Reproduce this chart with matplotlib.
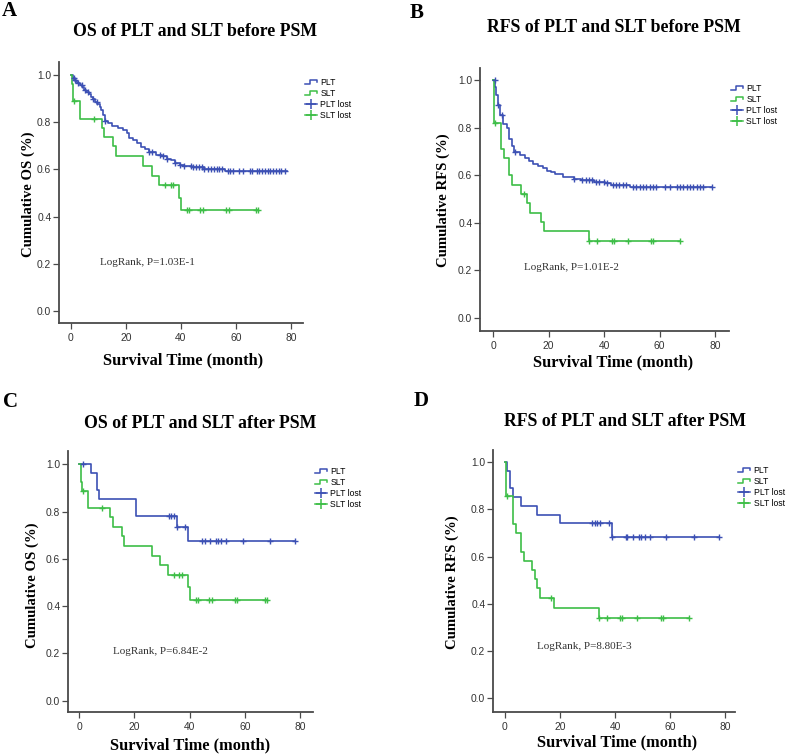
import numpy as np
import matplotlib
matplotlib.use("Agg")
import matplotlib.pyplot as plt
from matplotlib.lines import Line2D
from matplotlib.legend_handler import HandlerBase

W, H = 787, 754
BLUE = "#3C50B4"
GREEN = "#3DBE47"
SPINE = "#4a4a4a"

# --- data (step times / survival after step, censor times, last follow-up) ---
os_plt_pre_t = [0, 0.6, 1.2, 1.8, 2.5, 3.2, 4.0, 4.8, 5.6, 6.4, 7.2, 8.0, 8.8, 9.6, 10.4, 11.0,
                11.5, 12.2, 13.5, 15.0, 17.0, 19.0, 20.5, 21.2, 22.5, 24.0, 25.5, 27.0, 28.5,
                31.0, 33.0, 35.0, 36.5, 38.0, 39.5, 41.0, 44.0, 48.5, 56.0]
os_plt_pre_s = [1.0, 0.987, 0.980, 0.972, 0.964, 0.956, 0.948, 0.938, 0.928, 0.918, 0.908, 0.897,
                0.886, 0.875, 0.864, 0.853, 0.83, 0.805, 0.795, 0.785, 0.775, 0.765, 0.755, 0.735,
                0.725, 0.71, 0.695, 0.685, 0.672, 0.662, 0.655, 0.645, 0.638, 0.628, 0.62, 0.614,
                0.61, 0.603, 0.592]
os_plt_pre_cens = [1.0, 1.5, 2.7, 3.9, 5.1, 6.3, 8.1, 9.3, 12.5, 28.5, 29.5, 32.5, 33.5, 35.0,
                   38.0, 39.5, 41.0, 43.5, 44.5, 45.5, 46.5, 47.5, 48.5, 50.0, 51.0, 52.0, 53.0,
                   54.0, 55.0, 57.0, 58.0, 59.0, 61.0, 62.5, 65.0, 66.0, 67.5, 68.5, 69.5, 70.5,
                   71.5, 72.5, 73.5, 74.5, 75.5, 76.5, 78.0]
os_plt_pre_end = 78.4

os_slt_t = [0, 0.5, 0.7, 0.9, 3.3, 11.2, 12.1, 15.4, 16.2, 26.3, 29.3, 32.1, 39.4, 40.2]
os_slt_s = [1.0, 0.963, 0.926, 0.889, 0.815, 0.776, 0.736, 0.697, 0.656, 0.614, 0.573, 0.532,
            0.48, 0.426]
os_slt_cens = [1.2, 8.2, 34.3, 36.3, 37.2, 42.2, 43.1, 47.1, 48.2, 56.4, 57.3, 67.3, 68.2]
os_slt_end = 68.2

rfs_plt_pre_t = [0, 0.8, 1.2, 1.6, 2.5, 3.4, 5.1, 5.9, 6.8, 7.4, 9.6, 11.6, 12.8, 14.4, 16.2,
                 17.9, 19.5, 20.9, 22.3, 25.2, 29.2, 31.6, 36.4, 40.3, 42.5, 49.2]
rfs_plt_pre_s = [1.0, 0.97, 0.94, 0.895, 0.854, 0.816, 0.798, 0.751, 0.725, 0.699, 0.685, 0.671,
                 0.659, 0.648, 0.639, 0.629, 0.618, 0.612, 0.605, 0.594, 0.586, 0.58, 0.573,
                 0.566, 0.557, 0.549]
rfs_plt_pre_cens = [0.7, 1.9, 3.1, 8.0, 29.2, 32.2, 33.4, 34.6, 35.8, 37.0, 38.2, 40.1, 41.0,
                    43.1, 44.3, 45.5, 46.7, 47.9, 50.3, 51.6, 52.8, 54.0, 55.2, 56.4, 57.6, 58.8,
                    61.9, 63.7, 66.1, 67.3, 68.5, 69.7, 70.9, 72.1, 73.3, 74.6, 75.8, 78.8]
rfs_plt_pre_end = 78.8

rfs_slt_pre_t = [0, 0.2, 0.5, 2.8, 3.8, 5.9, 6.8, 10.1, 12.1, 13.3, 17.2, 18.2, 34.4]
rfs_slt_pre_s = [1.0, 0.96, 0.822, 0.71, 0.673, 0.6, 0.56, 0.523, 0.483, 0.443, 0.403, 0.364, 0.322]
rfs_slt_pre_cens = [0.6, 11.1, 34.4, 37.4, 42.7, 43.4, 48.5, 57.0, 57.7, 67.5]
rfs_slt_pre_end = 67.5

os_plt_post_t = [0, 4.1, 6.4, 7.3, 20.4, 35.3, 39.5]
os_plt_post_s = [1.0, 0.965, 0.891, 0.855, 0.78, 0.735, 0.677]
os_plt_post_cens = [1.2, 32.5, 33.3, 34.3, 35.4, 38.4, 44.6, 45.4, 47.4, 49.4, 50.2, 51.2, 53.3,
                    59.2, 69.2, 78.3]
os_plt_post_end = 78.3

rfs_plt_post_t = [0, 0.6, 1.9, 2.9, 5.9, 11.8, 19.9, 38.8]
rfs_plt_post_s = [1.0, 0.964, 0.89, 0.854, 0.815, 0.777, 0.74, 0.684]
rfs_plt_post_cens = [31.8, 32.6, 33.6, 34.4, 37.8, 38.8, 43.9, 44.5, 46.7, 48.7, 49.6, 50.8,
                     52.6, 58.7, 68.6, 77.7]
rfs_plt_post_end = 77.7

rfs_slt_post_t = [0, 0.4, 2.9, 3.9, 5.9, 6.9, 9.9, 11.0, 11.8, 12.9, 17.8, 34.1]
rfs_slt_post_s = [1.0, 0.855, 0.738, 0.699, 0.62, 0.582, 0.543, 0.504, 0.465, 0.426, 0.384, 0.342]
rfs_slt_post_cens = [0.7, 16.8, 34.1, 37.0, 41.8, 42.7, 47.9, 56.6, 57.3, 67.0]
rfs_slt_post_end = 67.0

letters = ["A", "B", "C", "D"]
titles = ["OS of PLT and SLT before PSM", "RFS of PLT and SLT before PSM",
          "OS of PLT and SLT after PSM", "RFS of PLT and SLT after PSM"]
ylabels = ["Cumulative OS (%)", "Cumulative RFS (%)", "Cumulative OS (%)", "Cumulative RFS (%)"]
pvals = ["LogRank, P=1.03E-1", "LogRank, P=1.01E-2", "LogRank, P=6.84E-2", "LogRank, P=8.80E-3"]
legend_labels = ["PLT", "SLT", "PLT lost", "SLT lost"]

curves = [
    ((os_plt_pre_t, os_plt_pre_s, os_plt_pre_cens, os_plt_pre_end),
     (os_slt_t, os_slt_s, os_slt_cens, os_slt_end)),
    ((rfs_plt_pre_t, rfs_plt_pre_s, rfs_plt_pre_cens, rfs_plt_pre_end),
     (rfs_slt_pre_t, rfs_slt_pre_s, rfs_slt_pre_cens, rfs_slt_pre_end)),
    ((os_plt_post_t, os_plt_post_s, os_plt_post_cens, os_plt_post_end),
     (os_slt_t, os_slt_s, os_slt_cens, os_slt_end)),
    ((rfs_plt_post_t, rfs_plt_post_s, rfs_plt_post_cens, rfs_plt_post_end),
     (rfs_slt_post_t, rfs_slt_post_s, rfs_slt_post_cens, rfs_slt_post_end)),
]

# --- layout in pixels ---
axes_px = [(59, 62, 303, 323), (480, 68, 729, 331), (68, 451, 313, 712), (493, 450, 735, 712)]
xlims = [(-4.36, 84.4), (-4.72, 85.0), (-4.1, 84.7), (-4.36, 83.6)]
ylims = [(-0.051, 1.055), (-0.056, 1.052), (-0.048, 1.057), (-0.058, 1.051)]
letter_px = [(2, 11), (410, 13), (3, 402), (414, 401)]
title_px = [(195, 31), (614, 28), (200, 424), (625, 422)]
xlab_px = [(183, 360), (613, 362), (190, 745), (617, 742)]
ylab_px = [(28, 194), (443, 200), (32, 585), (452, 582)]
legend_px = [(305, 78), (731, 84), (315, 467), (738, 466)]
ptext_xy = [(10.5, 0.207), (11.0, 0.21), (12.3, 0.207), (11.5, 0.219)]


def fx(px):
    return px / W


def fy(py):
    return 1 - py / H


class StepHandler(HandlerBase):
    def create_artists(self, legend, orig_handle, xdescent, ydescent, width, height, fontsize, trans):
        xs = np.array([0, 0.45, 0.45, 1.0, 1.0]) * width - xdescent
        ys = np.array([0.15, 0.15, 0.8, 0.8, 0.45]) * height - ydescent
        ln = Line2D(xs, ys, color=orig_handle.get_color(), lw=orig_handle.get_linewidth())
        ln.set_transform(trans)
        return [ln]


def km(ax, t, s, cens, end, color):
    tt = list(t) + [end]
    ss = list(s) + [s[-1]]
    ax.step(tt, ss, where="post", color=color, lw=1.2, zorder=3)
    idx = np.searchsorted(np.array(t), np.array(cens), side="right") - 1
    cy = np.array(s)[idx]
    ax.plot(cens, cy, linestyle="none", marker="+", ms=4.5, mew=1.0, color=color, zorder=4)


fig = plt.figure(figsize=(W / 100, H / 100), dpi=100)
fig.patch.set_facecolor("white")

for i in range(4):
    l, t, r, b = axes_px[i]
    ax = fig.add_axes([fx(l), fy(b), fx(r - l), (b - t) / H])
    (pt, ps, pc, pe), (st, ss, sc, se) = curves[i]
    km(ax, pt, ps, pc, pe, BLUE)
    km(ax, st, ss, sc, se, GREEN)
    ax.set_xlim(*xlims[i])
    ax.set_ylim(*ylims[i])
    ax.set_xticks([0, 20, 40, 60, 80])
    ax.set_yticks([0.0, 0.2, 0.4, 0.6, 0.8, 1.0])
    ax.set_yticklabels(["%.1f" % v for v in [0.0, 0.2, 0.4, 0.6, 0.8, 1.0]])
    for sp in ["top", "right"]:
        ax.spines[sp].set_visible(False)
    for sp in ["left", "bottom"]:
        ax.spines[sp].set_color(SPINE)
        ax.spines[sp].set_linewidth(1.3)
    ax.tick_params(axis="both", direction="out", length=4, width=0.9, color=SPINE,
                   labelsize=7.4, labelcolor="#333333")
    ax.tick_params(axis="x", pad=3.5)
    ax.tick_params(axis="y", pad=1.5)
    for lab in ax.get_xticklabels() + ax.get_yticklabels():
        lab.set_family("Liberation Sans")

    ax.text(ptext_xy[i][0], ptext_xy[i][1], pvals[i], family="Liberation Serif", fontsize=8,
            color="#333333", va="center", ha="left")

    handles = [Line2D([], [], color=BLUE, lw=1.1), Line2D([], [], color=GREEN, lw=1.1),
               Line2D([], [], color=BLUE, lw=1.1, marker="+", ms=6.5, mew=1.1),
               Line2D([], [], color=GREEN, lw=1.1, marker="+", ms=6.5, mew=1.1)]
    ax.legend(handles, legend_labels, loc="upper left",
              bbox_to_anchor=(fx(legend_px[i][0]), fy(legend_px[i][1])),
              bbox_transform=fig.transFigure, frameon=False,
              prop={"family": "Liberation Sans", "size": 6.2},
              handlelength=1.4, handletextpad=0.4, labelspacing=0.22,
              borderpad=0, borderaxespad=0,
              handler_map={handles[0]: StepHandler(), handles[1]: StepHandler()})

    fig.text(fx(letter_px[i][0]), fy(letter_px[i][1]), letters[i], family="Liberation Serif",
             fontweight="bold", fontsize=15, ha="left", va="center")
    fig.text(fx(title_px[i][0]), fy(title_px[i][1]), titles[i], family="Liberation Serif",
             fontweight="bold", fontsize=12.8, ha="center", va="center")
    fig.text(fx(xlab_px[i][0]), fy(xlab_px[i][1]), "Survival Time (month)",
             family="Liberation Serif", fontweight="bold", fontsize=11.8, ha="center", va="center")
    fig.text(fx(ylab_px[i][0]), fy(ylab_px[i][1]), ylabels[i], family="Liberation Serif",
             fontweight="bold", fontsize=10.6, ha="center", va="center", rotation=90)

fig.savefig("out.png", dpi=100, facecolor="white")
